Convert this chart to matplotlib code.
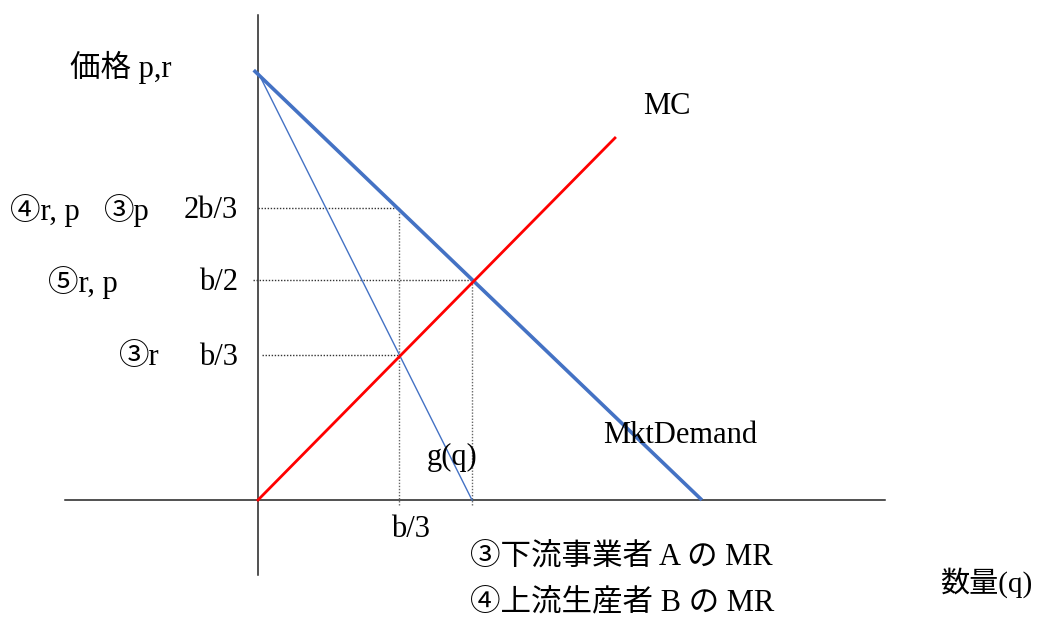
import matplotlib
matplotlib.use("Agg")
import matplotlib.pyplot as plt
import numpy as np

# 需要・限界収入・限界費用 (b = 1 として)
q_demand = [-0.01, 1.037]
p_demand = [0.995, 0.0]
q_mr = [0.0, 0.5]
p_mr = [0.99, 0.0]
q_mc = [0.0, 0.834]
p_mc = [0.0, 0.838]

# 補助線 (点線)
h_levels = [0.676, 0.509, 0.336]
h_starts = [0.0, -0.012, 0.01]
h_ends = [0.329, 0.5, 0.329]
v_levels = [0.329, 0.5]
v_tops = [0.676, 0.509]

# ラベル (テキスト, y値, 右端ピクセル)
ylabels_left = [("④r, p", 0.676, 80), ("⑤r, p", 0.509, 118), ("③r", 0.336, 160)]
ylabels_mid = [("③p", 0.676, 150)]
ylabels_right = [("2b/3", 0.676), ("b/2", 0.509), ("b/3", 0.336)]

X0, Y0 = 258, 500      # 原点のピクセル位置
SX, SY = 428, 432      # 1単位あたりのピクセル
W, H = 1037, 621

def px(x):
    return (x - X0) / SX

def py(y):
    return (Y0 - y) / SY

fam = ['Liberation Serif', 'Noto Sans CJK JP', 'DejaVu Sans']
fs = 22
dy = -0.005  # 文字の縦位置の微調整

fig = plt.figure(figsize=(W / 100, H / 100), dpi=100)
ax = fig.add_axes([0, 0, 1, 1])
ax.set_xlim(px(0), px(W))
ax.set_ylim(py(H), py(0))
ax.axis('off')

# 軸
ax.plot([0, 0], [py(575), py(15)], color='#222222', lw=1.1)
ax.plot([px(65), px(885)], [0, 0], color='#222222', lw=1.1)

# 点線
for y, x0, x1 in zip(h_levels, h_starts, h_ends):
    ax.plot([x0, x1], [y, y], color='#333333', lw=1.0, ls=(0, (1, 1.2)))
for x, top in zip(v_levels, v_tops):
    ax.plot([x, x], [py(505), top], color='#666666', lw=1.0, ls=(0, (1, 1.2)))

# 曲線
ax.plot(q_mr, p_mr, color='#4472C4', lw=1.0)
ax.plot(q_demand, p_demand, color='#4472C4', lw=2.6, solid_capstyle='butt')
ax.plot(q_mc, p_mc, color='#FF0000', lw=2.0)

# テキスト
def txt(x, y, s, ha='left', size=fs):
    ax.text(px(x), py(y) + dy, s, ha=ha, va='center', fontsize=size, family=fam)

txt(70, 65, "価格 p,r")
txt(643, 104, "MC")
for s, y, xr in ylabels_left:
    ax.text(px(xr), y + dy, s, ha='right', va='center', fontsize=fs, family=fam)
for s, y, xr in ylabels_mid:
    ax.text(px(xr), y + dy, s, ha='right', va='center', fontsize=fs, family=fam)
for s, y in ylabels_right:
    ax.text(px(238), y + dy, s, ha='right', va='center', fontsize=fs, family=fam)
txt(603, 433, "MktDemand")
txt(427, 455, "g(q)")
ax.text(px(411), py(527) + dy, "b/3", ha='center', va='center', fontsize=fs, family=fam)
txt(470, 556, "③下流事業者 A の MR")
txt(470, 602, "④上流生産者 B の MR")
txt(1032, 580, "数量(q)", ha='right', size=21)

fig.savefig("out.png", dpi=100)
